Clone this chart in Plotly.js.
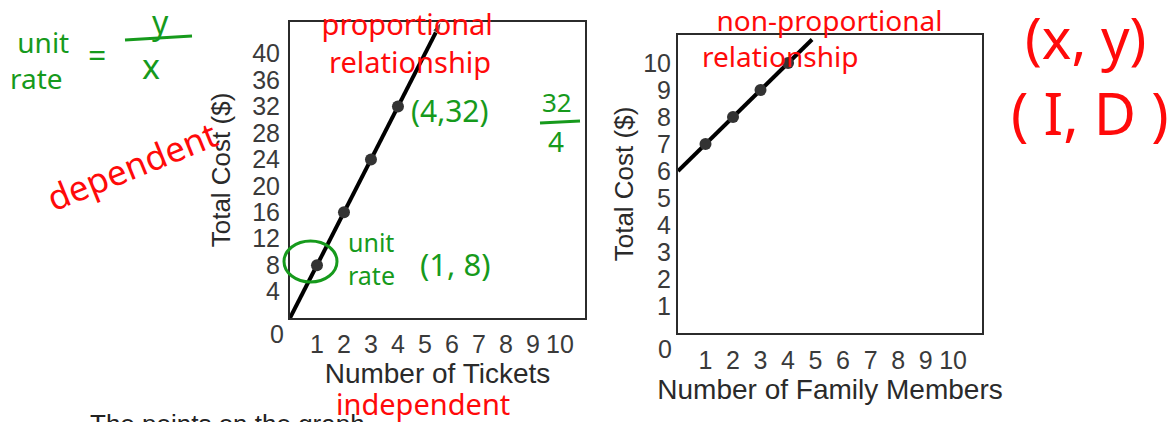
<!DOCTYPE html>
<html><head><meta charset="utf-8">
<script src="https://cdn.plot.ly/plotly-3.0.1.min.js"></script>
<style>html,body{margin:0;padding:0;background:#fff}</style>
</head><body><div id="chart" style="width:1175px;height:422px"></div>
<script>
// ---- data ----
const ticketCounts = [1, 2, 3, 4];
const ticketCosts = [8, 16, 24, 32];
const ticketLineX = [0, 5.6];
const ticketLineY = [0, 44.8];
const familyCounts = [1, 2, 3, 4];
const familyCosts = [7, 8, 9, 10];
const familyLineX = [0, 5.2];
const familyLineY = [6, 11.2];
const ticketXTicks = [1, 2, 3, 4, 5, 6, 7, 8, 9, 10];
const ticketYTicks = [4, 8, 12, 16, 20, 24, 28, 32, 36, 40];
const familyXTicks = [1, 2, 3, 4, 5, 6, 7, 8, 9, 10];
const familyYTicks = [1, 2, 3, 4, 5, 6, 7, 8, 9, 10];
const ticketXTitle = 'Number of Tickets';
const familyXTitle = 'Number of Family Members';
const costTitle = 'Total Cost ($)';

const W = 1175, H = 422;
const RED = '#ff0a0a', GREEN = '#169a1c';
const INK = '#2b2b2b';
const HAND = 'Noto Sans, DejaVu Sans, sans-serif';
const PRINT = 'Liberation Sans, Arial, sans-serif';
const TICKFONT = {family: PRINT, size: 25, color: '#3a3a3a'};

function note(text, cx, cy, size, color, extra) {
  return Object.assign({
    text: text, x: cx / W, y: 1 - cy / H, xref: 'paper', yref: 'paper',
    showarrow: false, xanchor: 'center', yanchor: 'middle',
    font: {family: HAND, size: size, color: color}
  }, extra || {});
}

const traces = [
  {x: ticketLineX, y: ticketLineY, xaxis: 'x', yaxis: 'y', mode: 'lines+markers',
   line: {color: '#000', width: 4},
   marker: {symbol: 'arrow', size: [0, 12], angleref: 'previous', color: '#000'},
   cliponaxis: false, hoverinfo: 'skip'},
  {x: ticketCounts, y: ticketCosts, xaxis: 'x', yaxis: 'y', mode: 'markers',
   marker: {size: 12, color: '#333'}, cliponaxis: false},
  {x: familyLineX, y: familyLineY, xaxis: 'x2', yaxis: 'y2', mode: 'lines+markers',
   line: {color: '#000', width: 4},
   marker: {symbol: 'arrow', size: [0, 14], angleref: 'previous', color: '#000'},
   cliponaxis: false, hoverinfo: 'skip'},
  {x: familyCounts, y: familyCosts, xaxis: 'x2', yaxis: 'y2', mode: 'markers',
   marker: {size: 12, color: '#333'}, cliponaxis: false}
];

function axisBase(extra) {
  return Object.assign({
    showgrid: false, zeroline: false, showline: true, mirror: true,
    linecolor: INK, linewidth: 2, ticks: '', automargin: false,
    tickfont: TICKFONT, tickmode: 'array'
  }, extra);
}

const layout = {
  width: W, height: H, margin: {l: 0, r: 0, t: 0, b: 0},
  paper_bgcolor: '#fff', plot_bgcolor: '#fff', showlegend: false,
  xaxis: axisBase({domain: [290 / W, 585 / W], range: [0, 10.93], anchor: 'y',
    tickvals: ticketXTicks, ticklabelstandoff: 3,
    title: {text: ticketXTitle, standoff: 4, font: {family: PRINT, size: 28, color: '#2a2a2a'}}}),
  yaxis: axisBase({domain: [1 - 318 / H, 1 - 22 / H], range: [0, 44.8], anchor: 'x',
    tickvals: ticketYTicks, ticklabelstandoff: 3,
    title: {text: costTitle, standoff: 14, font: {family: PRINT, size: 26, color: '#2a2a2a'}}}),
  xaxis2: axisBase({domain: [678 / W, 982 / W], range: [0, 11.05], anchor: 'y2',
    tickvals: familyXTicks, ticklabelstandoff: 4,
    title: {text: familyXTitle, standoff: 6, font: {family: PRINT, size: 28, color: '#2a2a2a'}}}),
  yaxis2: axisBase({domain: [1 - 333 / H, 1 - 35 / H], range: [0, 11.04], anchor: 'x2',
    tickvals: familyYTicks, ticklabelstandoff: 0,
    title: {text: costTitle, standoff: 2, font: {family: PRINT, size: 26, color: '#2a2a2a'}}}),
  annotations: [
    {text: '0', x: 0, y: 0, xref: 'x', yref: 'y', showarrow: false, xanchor: 'right', yanchor: 'top',
     xshift: -4, yshift: 0, font: TICKFONT},
    {text: '0', x: 0, y: 0, xref: 'x2', yref: 'y2', showarrow: false, xanchor: 'right', yanchor: 'top',
     xshift: -4, yshift: 0, font: TICKFONT},
    // handwritten notes
    note('&nbsp;unit<br>rate', 8, 60, 28, GREEN, {xanchor: 'left', align: 'left'}),
    note('=', 97, 55, 32, GREEN),
    note('y', 160, 22, 32, GREEN),
    note('x', 151, 66, 34, GREEN),
    note('dependent', 132, 166, 35, RED, {textangle: -22}),
    note('&nbsp;proportional<br>&nbsp;&nbsp;relationship', 312, 42, 29, RED, {xanchor: 'left', align: 'left'}),
    note('(4,32)', 450, 110, 30, GREEN),
    note('32', 557, 102, 26, GREEN),
    note('4', 556, 141, 28, GREEN),
    note('unit<br>rate', 371, 258, 25, GREEN, {align: 'left'}),
    note('(1, 8)', 455, 264, 31, GREEN),
    note('independent', 423, 403, 29, RED),
    note('&nbsp;&nbsp;non-proportional<br>relationship', 700, 38, 28, RED, {xanchor: 'left', align: 'left'}),
    note('(x, y)', 1085, 37, 56, RED),
    note('( I, D )', 1090, 112, 58, RED),
    {text: 'The points on the graph', x: 88 / W, y: 1 - 407 / H, xref: 'paper', yref: 'paper',
     showarrow: false, xanchor: 'left', yanchor: 'top',
     font: {family: PRINT, size: 26, color: '#222'}}
  ],
  shapes: [
    {type: 'line', xref: 'paper', yref: 'paper', x0: 125 / W, y0: 1 - 40 / H, x1: 192 / W, y1: 1 - 36 / H,
     line: {color: GREEN, width: 3}},
    {type: 'line', xref: 'paper', yref: 'paper', x0: 540 / W, y0: 1 - 123 / H, x1: 580 / W, y1: 1 - 121 / H,
     line: {color: GREEN, width: 3}},
    {type: 'circle', xref: 'paper', yref: 'paper', x0: 284 / W, y0: 1 - 282 / H, x1: 337 / W, y1: 1 - 241 / H,
     line: {color: GREEN, width: 3}}
  ]
};

Plotly.newPlot('chart', traces, layout, {staticPlot: true, displayModeBar: false});
</script></body></html>
